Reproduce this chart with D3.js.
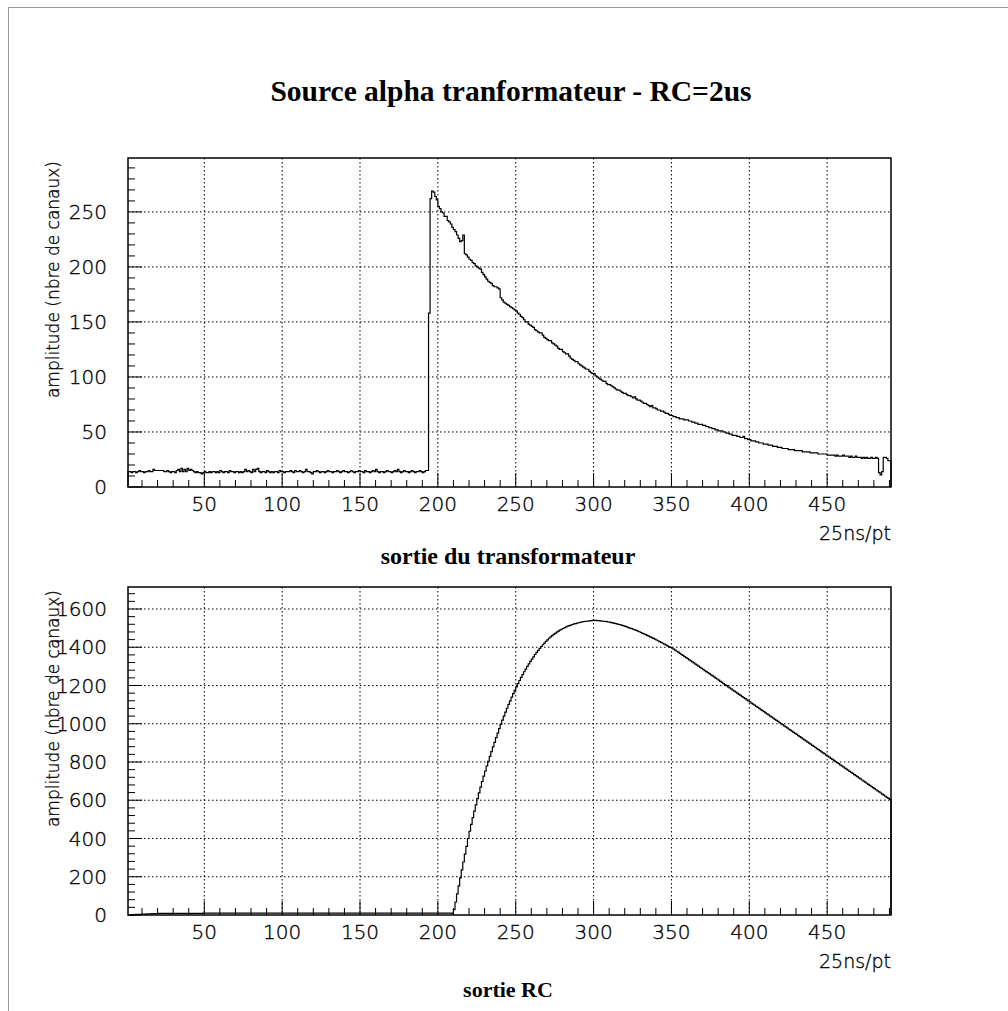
<!DOCTYPE html>
<html>
<head>
<meta charset="utf-8">
<script src="https://cdn.jsdelivr.net/npm/d3@7"></script>
<style>
  html, body { margin: 0; padding: 0; background: #fff; }
  svg { display: block; }
</style>
</head>
<body>
<script>
// ---------------- DATA ----------------
const chartTitle = "Source alpha tranformateur - RC=2us";
const topSubtitle = "sortie du transformateur";
const bottomSubtitle = "sortie RC";
const yTitle = "amplitude (nbre de canaux)";
const xTitle = "25ns/pt";

const xTickValues = [50, 100, 150, 200, 250, 300, 350, 400, 450];
const topYTicks = [0, 50, 100, 150, 200, 250];
const bottomYTicks = [0, 200, 400, 600, 800, 1000, 1200, 1400, 1600];

// Transformer output, bins 1..193 (baseline)
const transfoBaseline = [
  14,14,13,14,14,13,14,15,14,14,
  13,14,14,15,14,14,16,15,15,15,
  15,15,15,14,14,15,14,13,14,14,
  13,15,16,14,17,14,16,14,17,15,
  16,15,14,13,14,13,13,12,13,14,
  13,13,14,13,14,14,13,14,13,15,
  14,13,14,14,13,15,14,14,13,14,
  14,13,14,13,14,16,14,15,14,13,
  16,14,16,17,14,13,14,14,13,15,
  14,13,14,13,14,14,13,15,14,14,
  13,14,14,14,15,14,13,15,14,14,
  15,14,13,14,16,14,14,13,12,14,
  14,15,14,13,14,14,13,14,15,14,
  14,13,14,14,15,14,13,14,15,14,
  14,13,14,15,14,13,14,14,15,14,
  14,13,15,14,14,13,14,15,14,16,
  14,13,14,14,13,14,15,14,14,13,
  14,15,14,16,14,13,14,15,14,14,
  13,14,15,14,13,14,14,15,14,13,
  14,15,15
];
// Transformer output, bins 194..490 (pulse)
const transfoPulse = [
  158,262,269,268,264,261,255,253,250,249,
  246,246,242,241,239,236,234,232,229,226,
  223,224,229,212,211,209,207,206,204,203,
  201,200,199,198,195,193,191,189,187,186,
  185,183,182,182,181,180,172,170,168,167,
  166,165,164,163,162,161,160,158,157,155,
  154,152,150,150,148,147,146,145,143,142,
  141,140,140,138,136,135,134,133,133,131,
  130,129,128,126,125,125,123,122,121,121,
  119,117,116,115,114,114,112,111,110,109,
  108,107,107,105,104,103,103,101,100,99,
  98,97,96,96,94,93,93,92,91,90,
  89,88,88,87,86,85,85,84,83,83,
  82,81,82,80,79,79,78,77,76,76,
  75,74,73,74,72,72,71,70,70,69,
  69,68,67,67,66,65,65,64,64,63,
  63,62,62,62,61,61,61,60,60,59,
  59,58,58,57,57,57,56,56,55,55,
  54,54,53,53,52,52,51,51,51,50,
  50,49,49,48,48,47,47,47,46,46,
  45,45,46,44,44,43,43,42,42,42,
  41,41,40,40,40,39,39,39,38,38,
  38,37,37,37,36,36,36,35,35,35,
  35,34,34,34,34,33,33,33,33,33,
  32,32,32,32,32,31,31,31,31,31,
  30,30,30,30,30,30,29,29,29,29,
  29,28,29,28,28,28,29,28,28,28,
  27,28,27,27,28,27,27,27,26,27,
  26,27,26,26,27,26,26,27,26,13,
  11,14,27,27,26,24,24
];

// RC output, bins 1..208 (baseline)
const rcBaseline = [
  0,1,1,2,2,3,3,4,4,5,
  5,5,6,6,6,7,7,7,7,8,
  8,8,8,8,8,9,9,9,9,9,
  9,9,9,9,9,9,9,9,9,9,
  9,9,9,9,9,9,9,9,10,10,
  10,10,10,10,10,10,10,10,10,10,
  10,10,10,10,10,10,10,10,10,10,
  10,10,10,10,10,10,10,10,10,10,
  10,10,10,10,10,10,10,10,10,10,
  10,10,10,10,10,10,10,10,10,10,
  10,10,10,10,10,10,10,10,10,10,
  10,10,10,10,10,10,10,10,10,10,
  10,10,10,10,10,10,10,10,10,10,
  10,10,10,10,10,10,10,10,10,10,
  10,10,10,10,10,10,10,10,10,10,
  10,10,10,10,10,10,10,10,10,10,
  10,10,10,10,10,10,10,10,10,10,
  10,10,10,10,10,10,10,10,10,10,
  10,10,10,10,10,10,10,10,10,10,
  10,10,10,10,10,10,10,10,10,10,
  10,10,10,10,10,10,10,10
];
// RC output, bins 209..490 (shaped pulse)
const rcPulse = [
  8,28,68,110,152,194,236,277,318,359,
  400,438,474,509,543,576,608,639,669,698,
  726,753,779,804,829,854,879,903,927,951,
  974,997,1019,1040,1061,1081,1101,1120,1139,1157,
  1175,1193,1210,1226,1242,1257,1272,1286,1300,1313,
  1326,1338,1350,1362,1373,1384,1394,1404,1413,1422,
  1431,1439,1447,1454,1461,1467,1473,1479,1484,1489,
  1494,1498,1502,1506,1510,1513,1516,1519,1522,1524,
  1526,1528,1530,1532,1534,1535,1536,1537,1538,1539,
  1540,1540,
  1540,1539,1539,1538,1537,1536,1535,1534,1532,1531,
  1529,1527,1525,1523,1521,1519,1517,1514,1512,1509,
  1506,1503,1500,1497,1494,1491,1488,1484,1481,1477,
  1473,1470,1466,1462,1458,1454,1450,1446,1442,1438,
  1434,1429,1425,1421,1416,1412,1407,1403,1399,1396,
  1390,1385,1379,1374,1368,1362,1357,1351,1346,1340,
  1334,1329,1323,1318,1312,1306,1301,1295,1290,1284,
  1278,1273,1267,1262,1256,1250,1245,1239,1234,1228,
  1222,1216,1210,1205,1199,1193,1188,1182,1176,1171,
  1165,1159,1154,1148,1142,1137,1131,1125,1120,1114,
  1108,1103,1097,1091,1086,1080,1074,1069,1063,1057,
  1052,1046,1040,1035,1029,1023,1018,1012,1006,1001,
  995,989,984,978,972,967,961,955,950,944,
  938,933,927,921,916,910,904,899,893,887,
  882,876,870,865,859,853,848,842,836,831,
  825,819,814,808,802,797,791,785,780,774,
  768,763,757,751,746,740,734,729,723,717,
  712,706,700,695,689,683,678,672,666,661,
  655,649,644,638,632,627,621,615,610,604
];

const transfoValues = transfoBaseline.concat(transfoPulse);
const rcValues = rcBaseline.concat(rcPulse);

// ---------------- DRAW ----------------
const W = 1008, H = 1011;
const svg = d3.select("body").append("svg")
  .attr("width", W).attr("height", H)
  .style("background", "#fff");

// page frame lines
svg.append("line").attr("x1", 8).attr("x2", W).attr("y1", 7.5).attr("y2", 7.5)
  .attr("stroke", "#999").attr("stroke-width", 1);
svg.append("line").attr("x1", 8.5).attr("x2", 8.5).attr("y1", 7).attr("y2", H)
  .attr("stroke", "#999").attr("stroke-width", 1);

const serif = "'Liberation Serif','Times New Roman',serif";
const sans = "'DejaVu Sans', sans-serif";

function thinText(sel, size) {
  return sel.style("font-family", sans).style("font-weight", 200)
    .style("font-size", size + "px")
    .attr("fill", "#000").attr("stroke", "#000").attr("stroke-width", 0.35);
}

svg.append("text")
  .attr("x", 511).attr("y", 101)
  .attr("text-anchor", "middle")
  .style("font-family", serif).style("font-weight", "bold").style("font-size", "29.5px")
  .text(chartTitle);

function panel(cfg) {
  const left = 128, right = 891;
  const x = d3.scaleLinear().domain([1, 491]).range([left, right]);
  const y = d3.scaleLinear().domain([0, cfg.yMax]).range([cfg.bottom, cfg.top]);
  const g = svg.append("g");

  // grid (dotted)
  g.selectAll(".vg").data(xTickValues).join("line")
    .attr("x1", d => x(d)).attr("x2", d => x(d))
    .attr("y1", cfg.top).attr("y2", cfg.bottom)
    .attr("stroke", "#000").attr("stroke-width", 1)
    .attr("stroke-dasharray", "1.5,2.5");
  g.selectAll(".hg").data(cfg.yTicks.filter(d => d > 0)).join("line")
    .attr("x1", left).attr("x2", right)
    .attr("y1", d => y(d)).attr("y2", d => y(d))
    .attr("stroke", "#000").attr("stroke-width", 1)
    .attr("stroke-dasharray", "1.5,2.5");

  // histogram
  const pts = [[1, 0]];
  cfg.values.forEach((v, i) => pts.push([i + 1, v]));
  pts.push([cfg.values.length + 1, cfg.values[cfg.values.length - 1]]);
  pts.push([cfg.values.length + 1, 0]);
  const line = d3.line().x(d => x(d[0])).y(d => y(d[1])).curve(d3.curveStepAfter);
  g.append("path").attr("d", line(pts))
    .attr("fill", "none").attr("stroke", "#000").attr("stroke-width", 1.2);

  // x ticks (inside, from bottom)
  const xMinor = d3.range(10, 491, 10);
  g.selectAll(".xt").data(xMinor).join("line")
    .attr("x1", d => x(d)).attr("x2", d => x(d))
    .attr("y1", cfg.bottom).attr("y2", d => cfg.bottom - (d % 50 === 0 ? 14 : 7))
    .attr("stroke", "#000").attr("stroke-width", 1);
  // y ticks (inside, from left)
  const yMinor = d3.range(0, cfg.yMax, cfg.yMinorStep);
  g.selectAll(".yt").data(yMinor).join("line")
    .attr("x1", left).attr("x2", d => left + (cfg.yTicks.includes(d) ? 14 : 7))
    .attr("y1", d => y(d)).attr("y2", d => y(d))
    .attr("stroke", "#000").attr("stroke-width", 1);

  // frame
  g.append("rect").attr("x", left).attr("y", cfg.top)
    .attr("width", right - left).attr("height", cfg.bottom - cfg.top)
    .attr("fill", "none").attr("stroke", "#000").attr("stroke-width", 1.5);

  // x tick labels
  thinText(g.selectAll(".xl").data(xTickValues).join("text")
    .attr("x", d => x(d)).attr("y", cfg.bottom + 24)
    .attr("text-anchor", "middle"), 20)
    .text(d => d);
  // y tick labels
  thinText(g.selectAll(".yl").data(cfg.yTicks).join("text")
    .attr("x", 107).attr("y", d => y(d))
    .attr("dy", "0.36em")
    .attr("text-anchor", "end"), 20)
    .text(d => d);

  // axis titles
  thinText(g.append("text")
    .attr("x", right).attr("y", cfg.bottom + 53)
    .attr("text-anchor", "end"), 19)
    .text(xTitle);
  thinText(g.append("text")
    .attr("transform", `translate(59,${cfg.top + 3}) rotate(-90)`)
    .attr("text-anchor", "end"), 17)
    .text(yTitle);

  // subtitle
  g.append("text")
    .attr("x", 508).attr("y", cfg.subY)
    .attr("text-anchor", "middle")
    .style("font-family", serif).style("font-weight", "bold").style("font-size", cfg.subSize + "px")
    .text(cfg.subtitle);
}

panel({ top: 158, bottom: 487, yMax: 299, yTicks: topYTicks, yMinorStep: 10,
        values: transfoValues, subtitle: topSubtitle, subY: 564, subSize: 24 });
panel({ top: 587, bottom: 915, yMax: 1715, yTicks: bottomYTicks, yMinorStep: 40,
        values: rcValues, subtitle: bottomSubtitle, subY: 997, subSize: 22 });
</script>
</body>
</html>
